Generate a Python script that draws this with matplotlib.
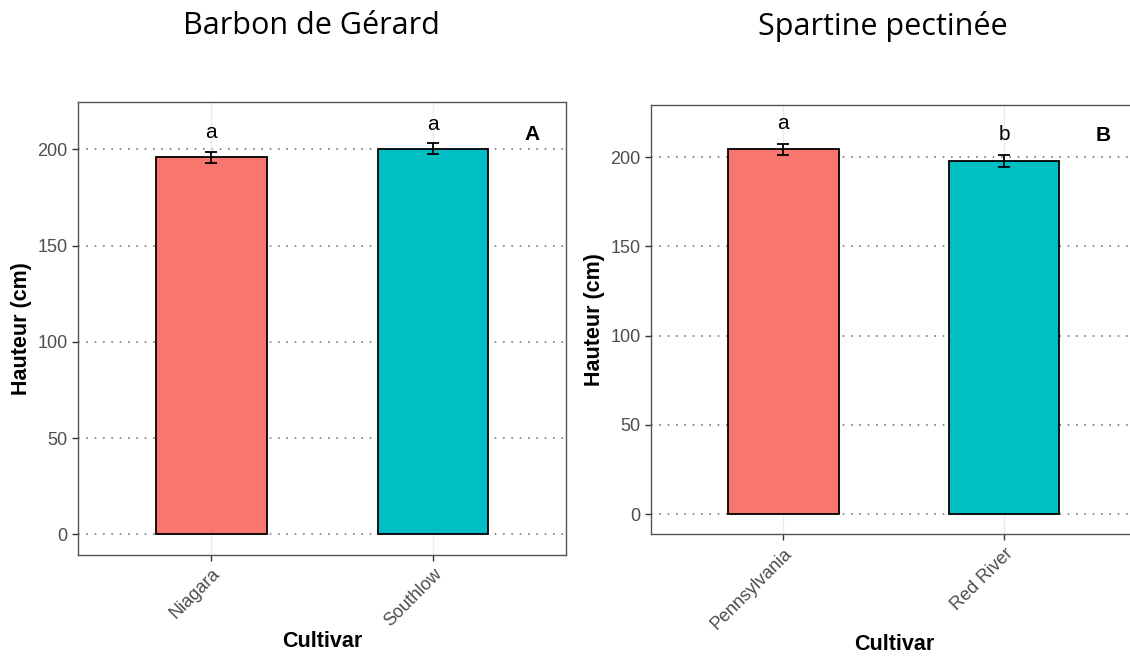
import matplotlib
matplotlib.use("Agg")
import matplotlib.pyplot as plt
import numpy as np

plt.rcParams["font.family"] = ["Liberation Sans", "DejaVu Sans"]

RED = "#F8766D"
TEAL = "#00BFC4"
GREY_TXT = "#4D4D4D"

# --- data ---
titles = ["Barbon de Gérard", "Spartine pectinée"]
panel_tags = ["A", "B"]
cultivars_a = ["Niagara", "Southlow"]
heights_a = [195.9, 200.4]
errors_a = [2.9, 2.9]
letters_a = ["a", "a"]
cultivars_b = ["Pennsylvania", "Red River"]
heights_b = [204.5, 197.6]
errors_b = [3.1, 3.4]
letters_b = ["a", "b"]
letter_y_a = [208.8, 213.2]
letter_y_b = [219.0, 212.6]

fig = plt.figure(figsize=(11.3, 6.58), dpi=100)
ax_a = fig.add_axes([0.069, 0.1565, 0.432, 0.688])
ax_b = fig.add_axes([0.576, 0.188, 0.430, 0.652])


def draw_panel(ax, cats, vals, errs, letters, letter_y, tag, ylim):
    x = np.arange(1, len(cats) + 1)
    ax.set_axisbelow(True)
    for v in [0, 50, 100, 150, 200]:
        ax.axhline(v, color="#7a7a7a", lw=1.2, ls=(0, (1, 4)), zorder=0)
    for xi in x:
        ax.axvline(xi, color="#ebebeb", lw=1.0, zorder=0)
    ax.bar(x, vals, width=0.5, color=[RED, TEAL], edgecolor="black", lw=1.3, zorder=2)
    ax.errorbar(x, vals, yerr=errs, fmt="none", ecolor="black", elinewidth=1.3,
                capsize=4.5, capthick=1.3, zorder=3)
    for xi, lab, ly in zip(x, letters, letter_y):
        ax.text(xi, ly, lab, ha="center", va="center", fontsize=15, color="black")
    ax.text(0.93, 0.93, tag, transform=ax.transAxes, ha="center", va="center",
            fontsize=15, fontweight="bold")
    ax.set_xlim(0.4, len(cats) + 0.6)
    ax.set_ylim(*ylim)
    ax.set_yticks([0, 50, 100, 150, 200])
    ax.set_xticks(x)
    ax.set_xticklabels(cats, rotation=45, ha="right", va="top", rotation_mode="anchor")
    ax.tick_params(axis="both", colors="#333333", labelcolor=GREY_TXT, labelsize=13,
                   length=4, width=1)
    for s in ax.spines.values():
        s.set_color("#555555")
        s.set_linewidth(1.0)
    ax.set_ylabel("Hauteur (cm)", fontsize=15.5, fontweight="bold")
    ax.set_xlabel("Cultivar", fontsize=15.5, fontweight="bold")


draw_panel(ax_a, cultivars_a, heights_a, errors_a, letters_a, letter_y_a, "A", (-10.7, 224.5))
draw_panel(ax_b, cultivars_b, heights_b, errors_b, letters_b, letter_y_b, "B", (-11.2, 229.0))

ax_a.xaxis.labelpad = 1
ax_b.xaxis.labelpad = 1

fig.text(311 / 1130, 1 - 26 / 658, titles[0], ha="center", va="center", fontsize=22,
         family=["Open Sans", "DejaVu Sans"])
fig.text(883 / 1130, 1 - 26 / 658, titles[1], ha="center", va="center", fontsize=22,
         family=["Open Sans", "DejaVu Sans"])

fig.savefig("out.png", dpi=100)
